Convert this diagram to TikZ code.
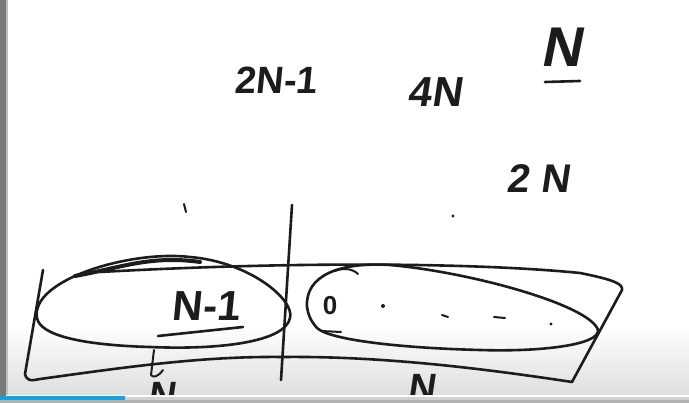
\documentclass[tikz,border=0pt]{standalone}
\usepackage{fontspec}
\setmainfont{Liberation Sans}
\tikzset{
  ink/.style={draw=inkc, line width=2.6pt, line cap=round, line join=round},
  thin ink/.style={draw=inkc, line width=2pt, line cap=round, line join=round},
  hw/.style={text=inkc, inner sep=0pt, anchor=center},
  dotm/.style={fill=inkc, draw=none}
}
\definecolor{inkc}{RGB}{28,28,28}
\definecolor{barblue}{RGB}{18,164,222}
\definecolor{leftbar}{RGB}{120,122,122}
\definecolor{bottomgrey}{RGB}{222,222,222}
\newcommand{\hwf}[1]{\fontsize{#1}{#1}\selectfont\bfseries}
\begin{document}
\begin{tikzpicture}[x=1pt,y=-1pt]
\useasboundingbox (0,0) rectangle (689,403);
\clip (0,0) rectangle (689,403);
% background
\fill[white] (0,0) rectangle (689,403);
\shade[top color=white, bottom color=bottomgrey] (0,325) rectangle (689,396);
\fill[leftbar] (0,0) rectangle (6,403);
\fill[black!25] (6,0) rectangle (8,403);

% top texts
\node[hw, font=\hwf{38}, xslant=0.1] (t2n1) at (277,80) {2N-1};
\node[hw, font=\hwf{42}, xslant=0.15] (t4n) at (437,92) {4N};
\node[hw, font=\hwf{56}, xslant=0.2] (tn) at (565,47) {N};
\draw[ink] (545,82) -- (580,81);
\node[hw, font=\hwf{40}, xslant=0.15] (t2n) at (540,179) {2 N};

% stray marks
\draw[thin ink] (184,204) -- (186,212);
\fill[dotm] (453,216) circle (1.6);

% outer band
\draw[ink] (43,270) -- (25,374) .. controls (27,381) and (30,381) .. (40,379)
  .. controls (120,368) and (200,356) .. (283,357)
  .. controls (380,356) and (480,368) .. (572,382)
  -- (622,290) .. controls (623,284) and (615,280) .. (580,273)
  .. controls (480,263) and (300,261) .. (100,272);
% thick overlap on top of left ellipse
\draw[line width=4pt, draw=inkc, line cap=round] (75,276) .. controls (120,268) and (150,255) .. (200,262);

% vertical divider
\draw[ink] (292,205) -- (281,380) coordinate (vbot);

% left ellipse
\draw[ink] (37,318) .. controls (30,280) and (130,250) .. (190,257)
  .. controls (250,262) and (295,300) .. (290,318)
  .. controls (285,342) and (220,350) .. (150,347)
  .. controls (80,345) and (40,335) .. (37,318) -- cycle;
\node[hw, font=\hwf{42}, xslant=0.1] (tn1) at (207,306) {N-1};
\draw[ink] (158,336) -- (243,327);
% hook below left ellipse
\draw[thin ink] (154,350) -- (151,375) .. controls (153,378) and (158,377) .. (163,370);
\node[hw, font=\hwf{38}, xslant=0.15, anchor=north] (bn1) at (165,382) {N};

% right ellipse
\draw[ink] (307,307) .. controls (305,275) and (340,262) .. (390,265)
  .. controls (470,272) and (590,305) .. (598,330)
  .. controls (600,345) and (540,352) .. (480,350)
  .. controls (400,348) and (330,340) .. (317,328)
  .. controls (310,320) and (308,314) .. (307,307) -- cycle;
\draw[thin ink] (335,271) .. controls (342,268) and (352,268) .. (358,274);
\draw[thin ink] (321,331) -- (341,332);
\node[hw, font=\hwf{26}] (zero) at (330,306) {0};
\fill[dotm] (383,306) circle (2);
\draw[thin ink] (442,315) -- (448,317);
\draw[thin ink] (494,317) -- (505,318);
\fill[dotm] (551,324) circle (1.6);
\node[hw, font=\hwf{38}, xslant=0.15, anchor=north] (bn2) at (425,374) {N};

% progress bar
\fill[white] (0,395) rectangle (689,403);
\fill[black!18] (125,397) rectangle (689,400);
\fill[barblue] (0,396) rectangle (125,400);
\fill[black!30] (0,400) rectangle (689,403);
\fill[leftbar] (0,0) rectangle (6,396);
\end{tikzpicture}
\end{document}
